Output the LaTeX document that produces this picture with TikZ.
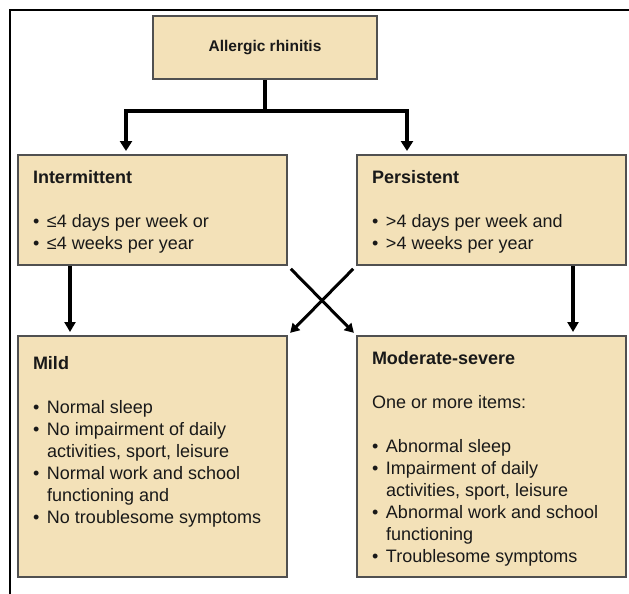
\documentclass[tikz,border=0pt]{standalone}
\usepackage{fontspec}
\setmainfont{Liberation Sans}
\usetikzlibrary{arrows.meta}
\definecolor{boxfill}{RGB}{243,225,184}
\definecolor{boxline}{RGB}{80,80,80}
\tikzset{
  topbox/.style={draw=boxline, line width=2pt, fill=boxfill, minimum width=224pt, minimum height=63pt, font=\fontsize{15.5}{18}\selectfont\bfseries, text=black!90},
  box/.style={draw=boxline, line width=2pt, fill=boxfill, anchor=north west, inner xsep=15pt, inner ysep=6pt, text=black!90, font=\fontsize{18}{22}\selectfont},
  stem/.style={line width=4pt},
  arr/.style={line width=4pt, {Triangle[width=12pt,length=10pt]}-{Triangle[width=12pt,length=10pt]}, shorten >=3pt, shorten <=3pt},
  varr/.style={line width=3.5pt, -{Triangle[width=11pt,length=10pt]}, shorten >=3pt},
  xarr/.style={line width=3pt, -{Triangle[width=10pt,length=9pt]}, shorten <=4pt, shorten >=3pt}
}
\newcommand{\Bul}[1]{\par\hangindent=14pt\hangafter=1\makebox[14pt][l]{•}#1}
\newcommand{\BoxText}[4][0pt]{\parbox[c][#2][t]{239pt}{\vspace*{\dimexpr9.5pt+#1\relax}\textbf{#3}\par\vspace{22pt}#4}}

\begin{document}
\begin{tikzpicture}[x=1pt, y=-1pt]
\useasboundingbox (0,0) rectangle (629,594);
\draw[line width=1.5pt] (629,10) -- (10,10) -- (10,594);

\node[topbox] (AR) at (265,47.5) {Allergic rhinitis};

\node[box] (Int) at (17,154) {\BoxText{98pt}{Intermittent}{%
  \Bul{≤4 days per week or}
  \Bul{≤4 weeks per year}}};
\node[box] (Per) at (356,154) {\BoxText{98pt}{Persistent}{%
  \Bul{>4 days per week and}
  \Bul{>4 weeks per year}}};

\node[box] (Mild) at (17,335) {\BoxText[5pt]{229pt}{Mild}{%
  \Bul{Normal sleep}
  \Bul{No impairment of daily\newline activities, sport, leisure}
  \Bul{Normal work and school\newline functioning and}
  \Bul{No troublesome symptoms}}};
\node[box] (Mod) at (356,335) {\BoxText{229pt}{Moderate-severe}{%
  One or more items:\par\vspace{22pt}
  \Bul{Abnormal sleep}
  \Bul{Impairment of daily\newline activities, sport, leisure}
  \Bul{Abnormal work and school\newline functioning}
  \Bul{Troublesome symptoms}}};

\coordinate (JL) at (126,111);
\coordinate (JR) at (407,111);

\draw[stem] (AR.south) -- (AR.south |- JL);
\draw[arr] (JL |- Int.north) -- (JL) -- (JR) -- (JR |- Per.north);

\draw[varr] ([xshift=53pt]Int.south west) -- ([xshift=53pt]Mild.north west);
\draw[varr] ([xshift=-54pt]Per.south east) -- ([xshift=-54pt]Mod.north east);

\draw[xarr] (Int.south east) -- (Mod.north west);
\draw[xarr] (Per.south west) -- (Mild.north east);
\end{tikzpicture}
\end{document}
